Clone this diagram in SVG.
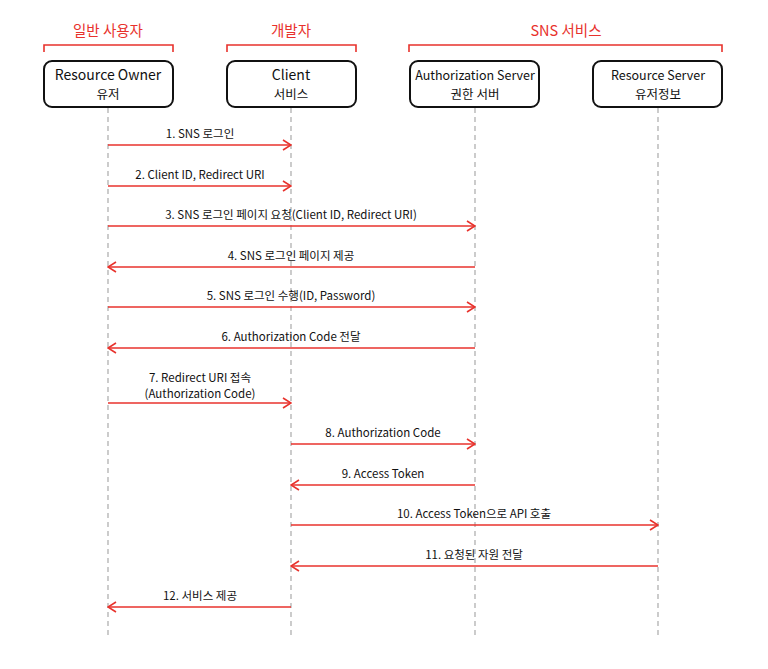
<svg xmlns="http://www.w3.org/2000/svg" width="768" height="669" viewBox="0 0 768 669">
<defs>
<marker id="ah" viewBox="0 0 10 12" refX="9" refY="6" markerWidth="10" markerHeight="12" markerUnits="userSpaceOnUse" orient="auto-start-reverse">
<path d="M1,1 L9,6 L1,11" fill="none" stroke="#e8322c" stroke-width="1.6"/>
</marker>
<style>
text{font-family:"Noto Sans CJK KR","Noto Sans",sans-serif;text-anchor:middle}
.hdr{fill:#e8322c;font-size:14.5px}
.brk{fill:none;stroke:#e8322c;stroke-width:1.6}
.box{fill:#fff;stroke:#111;stroke-width:2}
.t1{font-size:14px;fill:#111}
.t1s{font-size:12.5px;fill:#111}
.t2{font-size:12.5px;fill:#111}
.life{stroke:#aaa;stroke-width:1.2;stroke-dasharray:5 4}
.msg{stroke:#e8322c;stroke-width:1.6;fill:none;marker-end:url(#ah)}
.lbl{font-size:11.5px;fill:#111}
</style>
</defs>
<rect width="768" height="669" fill="#fff"/>
<g id="headers">
<text class="hdr" x="108" y="36">일반 사용자</text>
<path class="brk" d="M44,52 V45 H173 V52"/>
<text class="hdr" x="291" y="36">개발자</text>
<path class="brk" d="M227,52 V45 H356 V52"/>
<text class="hdr" x="566" y="36">SNS 서비스</text>
<path class="brk" d="M409,52 V45 H722 V52"/>
</g>
<g id="lifelines">
<line class="life" x1="108" y1="108" x2="108" y2="637"/>
<line class="life" x1="291" y1="108" x2="291" y2="637"/>
<line class="life" x1="475" y1="108" x2="475" y2="637"/>
<line class="life" x1="658" y1="108" x2="658" y2="637"/>
</g>
<g id="resource-owner">
<rect class="box" x="44" y="61" width="129" height="46" rx="8"/>
<text class="t1" x="108" y="80">Resource Owner</text>
<text class="t2" x="108" y="99">유저</text>
</g>
<g id="client">
<rect class="box" x="227" y="61" width="129" height="46" rx="8"/>
<text class="t1" x="291" y="80">Client</text>
<text class="t2" x="291" y="99">서비스</text>
</g>
<g id="auth-server">
<rect class="box" x="410" y="61" width="129" height="46" rx="8"/>
<text class="t1s" x="475" y="80">Authorization Server</text>
<text class="t2" x="475" y="99">권한 서버</text>
</g>
<g id="resource-server">
<rect class="box" x="593" y="61" width="129" height="46" rx="8"/>
<text class="t1s" x="658" y="80">Resource Server</text>
<text class="t2" x="658" y="99">유저정보</text>
</g>
<g id="connectors">
<line class="msg" x1="108" y1="145" x2="291" y2="145"/>
<text class="lbl" x="200" y="138">1. SNS 로그인</text>
<line class="msg" x1="108" y1="186" x2="291" y2="186"/>
<text class="lbl" x="200" y="179">2. Client ID, Redirect URI</text>
<line class="msg" x1="108" y1="226" x2="475" y2="226"/>
<text class="lbl" x="291" y="219">3. SNS 로그인 페이지 요청(Client ID, Redirect URI)</text>
<line class="msg" x1="475" y1="267" x2="108" y2="267"/>
<text class="lbl" x="291" y="260">4. SNS 로그인 페이지 제공</text>
<line class="msg" x1="108" y1="307" x2="475" y2="307"/>
<text class="lbl" x="291" y="300">5. SNS 로그인 수행(ID, Password)</text>
<line class="msg" x1="475" y1="348" x2="108" y2="348"/>
<text class="lbl" x="291" y="341">6. Authorization Code 전달</text>
<line class="msg" x1="108" y1="403" x2="291" y2="403"/>
<text class="lbl" x="200" y="382">7. Redirect URI 접속</text>
<text class="lbl" x="200" y="398">(Authorization Code)</text>
<line class="msg" x1="291" y1="444" x2="475" y2="444"/>
<text class="lbl" x="383" y="437">8. Authorization Code</text>
<line class="msg" x1="475" y1="485" x2="291" y2="485"/>
<text class="lbl" x="383" y="478">9. Access Token</text>
<line class="msg" x1="291" y1="525" x2="658" y2="525"/>
<text class="lbl" x="474" y="518">10. Access Token으로 API 호출</text>
<line class="msg" x1="658" y1="566" x2="291" y2="566"/>
<text class="lbl" x="474" y="559">11. 요청된 자원 전달</text>
<line class="msg" x1="291" y1="607" x2="108" y2="607"/>
<text class="lbl" x="200" y="600">12. 서비스 제공</text>
</g>
</svg>
